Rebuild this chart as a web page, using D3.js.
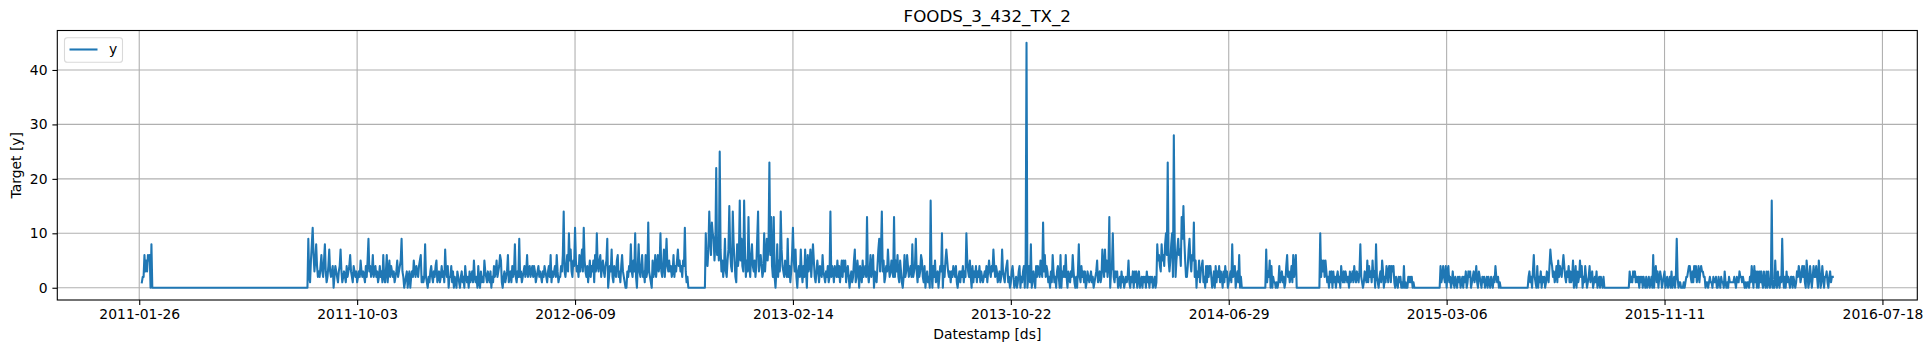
<!DOCTYPE html>
<html><head><meta charset="utf-8">
<script src="https://cdn.jsdelivr.net/npm/d3@7"></script>
<style>
body{margin:0;background:#fff}
svg{display:block}
text{font-family:"DejaVu Sans",sans-serif;fill:#000}
</style>
</head><body>
<svg id="c" width="1932" height="353"></svg>
<script>
// ---------------- data ----------------
const chartTitle = "FOODS_3_432_TX_2";
const seriesName = "y";
const xLabel = "Datestamp [ds]";
const yLabel = "Target [y]";
const firstDate = "2011-01-29";
const xTickLabels = ["2011-01-26","2011-10-03","2012-06-09","2013-02-14","2013-10-22","2014-06-29","2015-03-06","2015-11-11","2016-07-18"];
const yTickValues = [0,10,20,30,40];

// day offset (from firstDate) where each block of daily values starts
const blockStarts = [0,13,190,354,480,538,628,647,721,905,1089,1263,1290,1326,1352,1461,1490,1559,1591,1679,1707];

const b2011a = [1,2,2,6,3,5,3,6,5,6,0,8,0];
const b2011zero = [
0,0,0,0,0,0,0,0,0,0, 0,0,0,0,0,0,0,0,0,0, 0,0,0,0,0,0,0,0,0,0, 0,0,0,0,0,0,0,0,0,0,
0,0,0,0,0,0,0,0,0,0, 0,0,0,0,0,0,0,0,0,0, 0,0,0,0,0,0,0,0,0,0, 0,0,0,0,0,0,0,0,0,0,
0,0,0,0,0,0,0,0,0,0, 0,0,0,0,0,0,0,0,0,0, 0,0,0,0,0,0,0,0,0,0, 0,0,0,0,0,0,0,0,0,0,
0,0,0,0,0,0,0,0,0,0, 0,0,0,0,0,0,0,0,0,0, 0,0,0,0,0,0,0,0,0,0, 0,0,0,0,0,0,0,0,0,0,
0,0,0,0,0,0,0,0,0,0, 0,0,0,0,0,0,0];
const b2011b = [
0,9,2,1,5,8,11,6,3,5, 8,4,2,3,2,4,6,3,2,5, 8,3,1,2,4,7,3,2,3,4, 0,2,4,3,2,1,3,4,7,3,
1,2,3,2,1,4,2,3,4,6, 3,2,1,4,3,2,3,1,2,3, 2,5,3,2,3,2,1,4,2,5, 9,3,4,2,3,6,2,3,4,2,
3,1,2,4,2,3,1,6,2,1, 3,6,1,3,5,2,4,3,2,3, 1,2,3,5,2,3,4,5,9,3, 2,0,1,2,3,0,2,3,0,2,
3,2,5,3,2,4,3,2,4,5, 6,1,2,1,2,8,2,1,0,2, 1,3,4,2,1,3,2,4,5,1, 2,3,1,2,4,2,3,1,7,3,
2,4,0,2];
const b2012a = [
2,4,1,3,0,2,1,0,3,2, 1,0,2,3,1,2,0,4,2,1, 2,0,3,1,2,3,1,5,2,1, 2,0,4,1,0,3,1,2,1,5,
3,2,1,3,2,1,3,0,2,1, 4,2,3,5,2,3,4,6,5,1, 0,2,3,1,2,3,6,1,2,3, 1,4,2,3,8,2,1,3,2,9,
2,3,1,2,3,4,2,3,6,2, 3,4,2,3,4,2,4,3,1,2, 3,4,2,3,2,1,3,2,4,3, 2,1,3,4,2,6,1,3,2,3,
4,2,6,3,1,2];
const b2012b = [
2,4,3,6,14,3,2,4,6,3, 10,5,7,3,2,5,4,11,5,3, 4,2,6,3,5,7,3,11,5,3, 2,4,1,3,5,2,4,3,5,1,
6,3,10,4,3,5,6,2,4,5, 3,2,4,5,9,0,2,4];
const b2012c = [
3,7,2,1,4,3,2,5,6,2, 3,1,4,6,3,2,1,0,0,3, 2,4,3,8,3,2,5,3,10,2, 0,4,8,3,2,4,6,2,3,1,
6,2,3,12,3,2,1,0,5,2, 3,6,2,4,6,3,4,10,3,2, 4,7,2,5,9,4,3,5,3,4, 2,3,6,2,4,3,5,7,4,5,
3,4,2,5,4,11,3,1,2,0];
const b2012zero = [0,0,0,0,0,0,0,0,0,0, 0,0,0,0,0,0,0,0,0];
const b2012d = [
10,5,4,7,14,9,6,12,10,9, 5,8,22,6,9,5,25,7,3,5, 2,4,9,3,2,5,7,15,7,4, 3,14,8,5,2,1,8,4,6,16,
5,9,4,3,16,7,2,5,3,13, 4,2,6,8,4,3,5,2,4,9, 14,3,5,6,4,2,3,10,3,6, 9,5,8,23];
const b2013a = [
6,13,4,2,13,2,0,3,8,2, 5,3,14,7,4,3,2,5,3,2, 9,2,4,1,3,6,11,5,3,7, 2,0,3,4,2,7,3,1,4,2,
7,3,0,6,3,4,7,2,5,8, 5,2,1,3,5,3,1,4,3,2, 6,3,2,1,3,2,4,1,2,14, 2,4,3,1,4,3,2,5,2,4,
1,3,5,2,5,3,5,1,3,4, 2,0,2,3,1,2,5,7,1,2, 5,3,0,4,3,1,5,2,3,4, 2,13,3,1,3,6,2,4,6,0,
3,2,1,4,7,9,3,7,14,3, 5,1,2,4,3,7,4,2,3,5, 3,2,13,2,5,3,6,2,1,5, 3,1,0,2,6,2,3,6,4,2,
3,4,2,8,2,3,4,9,3,1, 4,2,3,6,5,2,1,4,0,2, 3,1,2,0];
const b2013b = [
16,3,0,4,2,5,1,2,3,0, 2,4,3,10,0,4,2,5,7,5, 3,2,3,1,3,2,4,3,2,4, 1,0,2,3,1,3,2,4,1,3,
2,10,5,3,2,5,2,0,4,1, 3,2,4,1,3,2,4,1,3,2, 1,2,3,2,4,1,3,5,3,2, 4,3,7,4,2,4,3,1,2,3,
1,2,7,3,2,1,3,4,5,1, 2,0,1,3,4,2,0,1,2,0, 1,3,4,0,2,1,3,4,0,5, 45,0,2,4,1,8,0,2,3,1,
0,4,2,4,3,2,5,3,2,12, 3,6,2,4,3,1,2,0,3,1, 6,3,1,2,0,3,4,2,0,6, 0,3,2,4,2,6,2,0,3,2,
1,3,2,6,3,1,0,2,0,3, 8,2,1,4,2,3,1,3,0,1, 3,2,1,2];
const b2014a = [
3,1,2,0,1,2,3,5,1,2, 3,1,2,7,4,2,7,3,5,2, 4,13,0,3,4,10,2,1,3,2, 3,0,1,2,0,3,1,2,0,1,
2,1,2,5,1,0,2,1,3,0, 3,1,3,0,2,3,0,1,2,0, 2,1,2,0,3,1,2,0,2,1, 2,0,1,2,0,1,8,5,6,4,
3,8,5,6,4,8,10,6,23,5, 3,5,8,10,2,28,9,2,5,7, 9,6,7,4,13,9,15,9,5,2, 2,4,7,9,5,3,6,5,12,2,
5,0,3,2,5,1,3,4,5,1, 2,0,4,1,4,2,4,4,2,0, 1,3,0,4,1,3,2,4,1,3, 2,0,3,1,4,2,3,0,1,2,
3,1,8,2,3,4,0,2,3,1, 6,0,2,0];
const b2014zero = [0,0,0,0,0,0,0,0,0,0, 0,0,0,0,0,0,0,0,0,0, 0,0,0,0,0,0,0];
const b2014b = [
7,1,3,2,5,0,4,0,2,1, 1,0,1,0,1,4,1,2,3,1, 2,0,1,4,6,2,3,1,2,4, 1,6,2,4,6,0];
const b2014zero2 = [0,0,0,0,0,0,0,0,0,0, 0,0,0,0,0,0,0,0,0,0, 0,0,0,0,0,0];
const b2015a = [
10,2,5,3,5,2,5,3,1,2, 0,3,1,3,0,3,1,2,0,2, 3,1,2,0,4,2,1,3,1,3, 2,1,2,0,3,1,2,3,1,4,
2,1,3,2,1,3,8,2,1,0, 1,3,2,1,5,1,4,2,3,1, 5,2,3,0,8,2,1,0,2,3, 1,5,3,0,2,1,4,3,1,4,
4,1,4,3,4,1,0,2,1,0, 2,1,2,0,1,0,4,0,1,0, 0,2,1,2,1,2,0,1,0];
const b2015zero = [0,0,0,0,0,0,0,0,0,0, 0,0,0,0,0,0,0,0,0,0, 0,0,0,0,0,0,0,0,0];
const b2015b = [
4,1,2,4,2,1,4,0,3,4, 1,2,0,1,3,1,0,2,1,0, 2,1,2,0,1,2,0,2,1,3, 0,1,3,2,3,0,1,2,3,1,
2,4,1,0,3,2,1,0,2,1, 2,0,1,2,0,2,1,0,2,1, 0,2,1,4,2,1,2,0,1];
const b2015zero2 = [0,0,0,0,0,0,0,0,0,0, 0,0,0,0,0,0,0,0,0,0, 0,0,0,0,0,0,0,0,0,0, 0,0];
const b2015c = [
2,3,1,2,0,3,6,2,1,0, 4,0,2,1,3,0,2,1,2,0, 1,3,2,1,4,7,5,4,2,3, 1,2,4,1,5,2,4,3,2,4,
6,4,2,1,3,2,4,1, 3,1,2,5,0,1,4,0,3,1, 2,5,2,4,0,2,1,4,2,0, 1,2,4,1,2,3,0,1,2,1,
3,0,1,2,0,2,1,0,2,0];
const b2015zero3 = [0,0,0,0,0,0,0,0,0,0, 0,0,0,0,0,0,0,0,0,0, 0,0,0,0,0,0,0,0];
const b2016 = [
3,1,2,1,3,2,3,1,2,1, 2,0,2,1,2,0,2,1,0,2, 0,1,2,0,1,2,0,6,0,3, 4,1,3,0,2,3,2,0,1,2,
3,0,1,2,0,1,2,0,3,0, 1,2,0,2,9,2,0,1,1,0, 0,0,1,0,1,2,2,3,4,4, 2,1,3,1,4,2,4,1,2,4,
1,3,4,3,3,2,2,0,1,1, 0,1,2,1,1,0,2,1,1,2, 0,0,2,1,0,2,1,1,0,3, 1,0,1,0,2,1,
1,1,1,1,2,1,0,2,1,1, 3,2,2,1,2,1,0,1,0,1, 1,0,2,1,4,2,0,4,1,3, 0,3,0,3,1,3,1,0,3,1,
0,3,0,3,1,0,1,16,0,1, 0,5,1,0,3,1,0,2,1,9, 2,0,2,0,3,1,2,1,0,2, 2,0,2,1,0,1,3,2,4,3,
1,2,4,2,4,1,0,5,3,0, 1,4,2,0,2,4,2,2,4,2, 0,5,3,0,1,4,2,0,2,2, 3,1,0,2,3,1,2,2];

const blocks = [b2011a,b2011zero,b2011b,b2012a,b2012b,b2012c,b2012zero,b2012d,b2013a,b2013b,
                b2014a,b2014zero,b2014b,b2014zero2,b2015a,b2015zero,b2015b,b2015zero2,b2015c,b2015zero3,b2016];

// ---------------- build series ----------------
const parse = d3.utcParse("%Y-%m-%d");
const t0 = parse(firstDate);
const byDay = new Map();
blocks.forEach((arr, k) => arr.forEach((v, i) => byDay.set(blockStarts[k] + i, v)));
const series = Array.from(byDay.keys()).sort((a,b)=>a-b)
  .map(d => ({date: d3.utcDay.offset(t0, d), value: byDay.get(d)}));

// ---------------- layout ----------------
const W = 1932, H = 353;
const L = 57.3, R = 1917.3, T = 30.5, B = 300;
const svg = d3.select("#c");
svg.append("rect").attr("width", W).attr("height", H).attr("fill", "#fff");

const dMin = d3.min(series, d => d.date), dMax = d3.max(series, d => d.date);
const span = dMax - dMin;
const x = d3.scaleUtc().domain([new Date(+dMin - span*0.05), new Date(+dMax + span*0.05)]).range([L, R]);
const vMax = d3.max(series, d => d.value), vMin = 0;
const pad = (vMax - vMin) * 0.05;
const y = d3.scaleLinear().domain([vMin - pad, vMax + pad]).range([B, T]);

const xTicks = xTickLabels.map(parse);
const gridColor = "#b0b0b0";

// grid
const grid = svg.append("g");
grid.selectAll("line.gx").data(xTicks).join("line")
  .attr("x1", d => x(d)).attr("x2", d => x(d)).attr("y1", T).attr("y2", B)
  .attr("stroke", gridColor).attr("stroke-width", 1.1);
grid.selectAll("line.gy").data(yTickValues).join("line")
  .attr("x1", L).attr("x2", R).attr("y1", d => y(d)).attr("y2", d => y(d))
  .attr("stroke", gridColor).attr("stroke-width", 1.1);

// clip + line
svg.append("clipPath").attr("id", "clip").append("rect")
  .attr("x", L).attr("y", T).attr("width", R - L).attr("height", B - T);
const line = d3.line().x(d => x(d.date)).y(d => y(d.value));
svg.append("path").datum(series)
  .attr("clip-path", "url(#clip)")
  .attr("fill", "none").attr("stroke", "#1f77b4").attr("stroke-width", 2.08)
  .attr("stroke-linejoin", "round").attr("stroke-linecap", "square")
  .attr("d", line);

// axes
const fmt = d3.utcFormat("%Y-%m-%d");
const xAxis = d3.axisBottom(x).tickValues(xTicks).tickFormat(fmt).tickSize(4.9).tickPadding(4.3);
const yAxis = d3.axisLeft(y).tickValues(yTickValues).tickFormat(d3.format("d")).tickSize(4.9).tickPadding(4.9);
const gx = svg.append("g").attr("transform", `translate(0,${B})`).call(xAxis);
const gy = svg.append("g").attr("transform", `translate(${L},0)`).call(yAxis);
[gx, gy].forEach(g => {
  g.select(".domain").remove();
  g.selectAll(".tick line").attr("stroke", "#000").attr("stroke-width", 1.1);
  g.selectAll(".tick text").attr("font-family", "DejaVu Sans").attr("font-size", 13.9).attr("fill", "#000");
});

// spines
svg.append("rect").attr("x", L).attr("y", T).attr("width", R - L).attr("height", B - T)
  .attr("fill", "none").attr("stroke", "#000").attr("stroke-width", 1.1);

// titles
svg.append("text").attr("x", (L + R) / 2).attr("y", 22).attr("text-anchor", "middle")
  .attr("font-size", 16.7).text(chartTitle);
svg.append("text").attr("x", (L + R) / 2).attr("y", 339).attr("text-anchor", "middle")
  .attr("font-size", 13.9).text(xLabel);
svg.append("text").attr("transform", `translate(21,${(T + B) / 2}) rotate(-90)`)
  .attr("text-anchor", "middle").attr("font-size", 13.9).text(yLabel);

// legend
const lg = svg.append("g");
lg.append("rect").attr("x", 64.5).attr("y", 37.8).attr("width", 58).attr("height", 24.5)
  .attr("rx", 2.8).attr("fill", "#fff").attr("fill-opacity", 0.8)
  .attr("stroke", "#d9d9d9").attr("stroke-width", 1.1);
lg.append("line").attr("x1", 69.5).attr("x2", 97.5).attr("y1", 49.5).attr("y2", 49.5)
  .attr("stroke", "#1f77b4").attr("stroke-width", 2.08);
lg.append("text").attr("x", 109).attr("y", 54.2).attr("font-size", 13.9).text(seriesName);
</script>
</body></html>
